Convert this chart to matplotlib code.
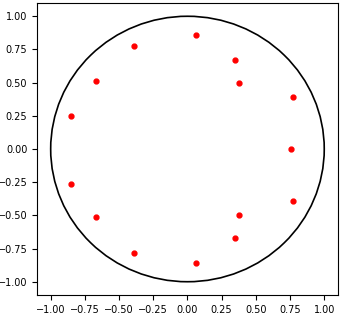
import matplotlib
matplotlib.use("Agg")
from matplotlib import pyplot as plt

# points
px = [-0.85, -0.67, -0.39, 0.06, 0.35, 0.375, 0.77, 0.755,
      0.77, 0.375, 0.35, 0.06, -0.39, -0.67, -0.85]
py = [0.25, 0.51, 0.775, 0.86, 0.67, 0.495, 0.39, 0.0,
      -0.39, -0.495, -0.67, -0.86, -0.78, -0.51, -0.26]
radius = 1.0

fig = plt.figure(figsize=(3.41, 3.15), dpi=100)
ax = fig.add_axes([0.1085, 0.0635, 0.8825, 0.927])

circ = plt.Circle((0, 0), radius, fill=False, color="black", lw=1.2)
ax.add_patch(circ)
ax.plot(px, py, "ro", markersize=3.5)

ax.set_xlim(-1.1, 1.1)
ax.set_ylim(-1.1, 1.1)
ax.set_xticks([-1.0, -0.75, -0.5, -0.25, 0.0, 0.25, 0.5, 0.75, 1.0])
ax.set_yticks([-1.0, -0.75, -0.5, -0.25, 0.0, 0.25, 0.5, 0.75, 1.0])
ax.tick_params(labelsize=7)

fig.savefig("out.png", dpi=100)
